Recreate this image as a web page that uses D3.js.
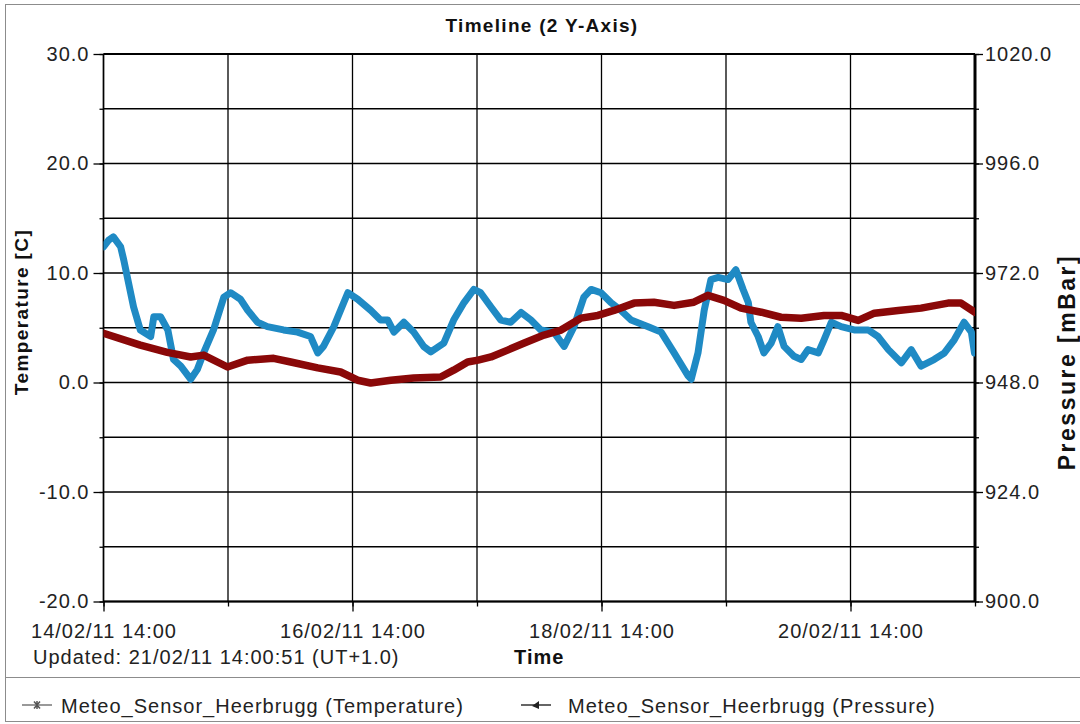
<!DOCTYPE html>
<html>
<head>
<meta charset="utf-8">
<script src="https://cdn.jsdelivr.net/npm/d3@7"></script>
<style>
  body { margin: 0; background: #fff; }
  svg { display: block; font-family: "Liberation Sans", Arial, sans-serif; }
</style>
</head>
<body>
<svg id="chart" width="1080" height="724"></svg>
<script>
// readings, hours after 14/02/11 14:00
const tempHours = [0, 1, 1.9, 3.3, 3.9, 5.8, 7.1, 9.1, 9.7, 11, 12.4, 13.5, 14.9, 16.8, 18.1, 19.3, 21.2, 23.2, 24.5, 26.4,
  27.8, 29.7, 31.6, 34.7, 37.4, 39.9, 41.3, 42.4, 44.4, 47.1, 49, 51.5, 53.4, 54.8, 56, 57.9, 59.8, 61.7, 63.1, 65.6,
  67.5, 69.5, 71.4, 72.7, 74.7, 76.6, 78.5, 80.5, 82.4, 84.3, 86.8, 88.8, 90.7, 92.6, 94, 95.9, 97.8, 99.7, 101.7, 105,
  107.5, 110, 112.7, 113.3, 114.6, 115.8, 117.1, 118.5, 120.4, 121.9, 123.3, 124.3, 124.8, 126.2, 127.3, 128.7, 130, 131.2, 133.1, 134.5,
  135.8, 137.8, 138.9, 140.3, 142.2, 144.7, 147.4, 149.3, 151.3, 153.8, 155.7, 157.6, 160.1, 162.1, 164, 165.9, 167.3, 167.9]
const tempC = [12.4, 13.0, 13.3, 12.4, 11.2, 6.9, 4.8, 4.2, 6.0, 6.0, 4.8, 2.1, 1.5, 0.3, 1.2, 2.7, 4.8, 7.8, 8.2, 7.6,
  6.6, 5.5, 5.1, 4.8, 4.6, 4.2, 2.7, 3.3, 5.1, 8.2, 7.6, 6.6, 5.7, 5.7, 4.6, 5.5, 4.6, 3.3, 2.8, 3.6,
  5.7, 7.3, 8.5, 8.2, 6.9, 5.7, 5.5, 6.4, 5.7, 4.8, 4.6, 3.3, 5.1, 7.8, 8.5, 8.2, 7.3, 6.6, 5.7, 5.1,
  4.6, 2.7, 0.6, 0.3, 2.7, 6.6, 9.4, 9.6, 9.4, 10.3, 8.5, 7.3, 5.5, 4.2, 2.7, 3.6, 5.1, 3.3, 2.4, 2.1,
  3.0, 2.7, 3.9, 5.5, 5.1, 4.8, 4.8, 4.2, 3.0, 1.8, 3.0, 1.5, 2.1, 2.7, 3.9, 5.5, 4.6, 2.7]

const pressHours = [0, 7.1, 12.3, 16.8, 19.3, 23.9, 27.8, 32.8, 36.1, 41.3, 45.7, 49, 51.5, 55.4, 59.8, 65, 67.5, 70.2, 72.2, 74.7,
  77.9, 81, 84.9, 88.2, 92, 95.3, 98.4, 102.3, 106.1, 110, 113.8, 116.5, 119.6, 122.9, 126.8, 130.6, 134.5, 138.9, 142.2, 145.5,
  148.6, 153.2, 157.6, 162.8, 165.3, 168]
const pressMbar = [958.8, 956.2, 954.6, 953.6, 954.0, 951.4, 952.9, 953.3, 952.5, 951.2, 950.3, 948.5, 947.9, 948.5, 949.0, 949.2, 950.7, 952.5, 952.9, 953.6,
  955.1, 956.6, 958.4, 959.5, 962.1, 962.7, 963.8, 965.4, 965.6, 964.9, 965.6, 967.1, 966.0, 964.3, 963.4, 962.3, 962.1, 962.7, 962.7, 961.6,
  963.2, 963.8, 964.3, 965.4, 965.4, 963.4]

const tempTicks = [-20, -15, -10, -5, 0, 5, 10, 15, 20, 25, 30]
const tempLabelled = [-20, -10, 0, 10, 20, 30]
const pressTicks = [900, 912, 924, 936, 948, 960, 972, 984, 996, 1008, 1020]
const pressLabelled = [900, 924, 948, 972, 996, 1020]
const dayOffsets = [0, 1, 2, 3, 4, 5, 6, 7]
const labelledDays = [0, 2, 4, 6]

const seriesNames = ['Meteo_Sensor_Heerbrugg (Temperature)', 'Meteo_Sensor_Heerbrugg (Pressure)']

const start = Date.UTC(2011, 1, 14, 14)
const end = Date.UTC(2011, 1, 21, 14)
const toDate = (h) => new Date(start + h * 3600e3)

const svg = d3.select('#chart')
const plotL = 103.5
const plotR = 975
const plotT = 54
const plotB = 601.5
const font = 20

const x = d3.scaleUtc().domain([start, end]).range([plotL, plotR])
const yT = d3.scaleLinear().domain([-20, 30]).range([plotB, plotT])
const yP = d3.scaleLinear().domain([900, 1020]).range([plotB, plotT])

const dayTicks = dayOffsets.map((d) => toDate(d * 24))
const labelTicks = labelledDays.map((d) => toDate(d * 24))
const fmt = d3.utcFormat('%d/%m/%y %H:%M')
const num = (d) => d.toFixed(1)

// panel frame
svg.append('rect')
  .attr('x', 5.5).attr('y', 4.5).attr('width', 1090).attr('height', 717)
  .attr('fill', '#fff').attr('stroke', '#8c8c8c')
svg.append('line')
  .attr('x1', 5).attr('x2', 1080).attr('y1', 677.5).attr('y2', 677.5)
  .attr('stroke', '#8c8c8c')

// grid
const grid = svg.append('g').attr('stroke', '#000').attr('stroke-width', 1.3)
grid.selectAll('line.h').data(tempTicks).join('line')
  .attr('class', 'h')
  .attr('x1', plotL).attr('x2', plotR)
  .attr('y1', (d) => yT(d)).attr('y2', (d) => yT(d))
grid.selectAll('line.v').data(dayTicks).join('line')
  .attr('class', 'v')
  .attr('y1', plotT).attr('y2', plotB)
  .attr('x1', (d) => x(d)).attr('x2', (d) => x(d))

// axes
function styleAxis(g) {
  g.select('.domain').remove()
  g.selectAll('line').attr('stroke', '#000').attr('stroke-width', 1.3)
  g.selectAll('text').attr('fill', '#222').attr('font-size', font).attr('letter-spacing', 1)
}

svg.append('g').attr('transform', `translate(${plotL},0)`)
  .call(d3.axisLeft(yT).tickValues(tempTicks).tickSize(4).tickFormat(''))
  .call(styleAxis)
svg.append('g').attr('transform', `translate(${plotL},0)`)
  .call(d3.axisLeft(yT).tickValues(tempLabelled).tickSize(10).tickPadding(4).tickFormat(num))
  .call(styleAxis)

svg.append('g').attr('transform', `translate(${plotR},0)`)
  .call(d3.axisRight(yP).tickValues(pressTicks).tickSize(4).tickFormat(''))
  .call(styleAxis)
svg.append('g').attr('transform', `translate(${plotR},0)`)
  .call(d3.axisRight(yP).tickValues(pressLabelled).tickSize(8).tickPadding(2).tickFormat(num))
  .call(styleAxis)

svg.append('g').attr('transform', `translate(0,${plotB})`)
  .call(d3.axisBottom(x).tickValues(dayTicks).tickSize(5).tickFormat(''))
  .call(styleAxis)
svg.append('g').attr('transform', `translate(0,${plotB})`)
  .call(d3.axisBottom(x).tickValues(labelTicks).tickSize(10).tickPadding(12).tickFormat(fmt))
  .call(styleAxis)

// plot border
svg.append('line').attr('x1', plotL).attr('x2', plotR).attr('y1', plotT).attr('y2', plotT)
  .attr('stroke', '#000').attr('stroke-width', 2)
svg.append('line').attr('x1', plotL).attr('x2', plotR).attr('y1', plotB).attr('y2', plotB)
  .attr('stroke', '#000').attr('stroke-width', 2)
svg.append('line').attr('x1', plotL).attr('x2', plotL).attr('y1', plotT).attr('y2', plotB)
  .attr('stroke', '#000').attr('stroke-width', 1.5)
svg.append('line').attr('x1', plotR).attr('x2', plotR).attr('y1', plotT).attr('y2', plotB)
  .attr('stroke', '#000').attr('stroke-width', 3)

// series
svg.append('clipPath').attr('id', 'plot')
  .append('rect').attr('x', plotL).attr('y', plotT).attr('width', plotR - plotL).attr('height', plotB - plotT)

const tempData = tempHours.map((h, i) => ({ t: toDate(h), v: tempC[i] }))
const pressData = pressHours.map((h, i) => ({ t: toDate(h), v: pressMbar[i] }))

const plot = svg.append('g').attr('clip-path', 'url(#plot)')
plot.append('path')
  .datum(tempData)
  .attr('d', d3.line().x((d) => x(d.t)).y((d) => yT(d.v)))
  .attr('fill', 'none').attr('stroke', '#1f8ac4').attr('stroke-width', 7)
  .attr('stroke-linejoin', 'round').attr('stroke-linecap', 'round')
plot.append('path')
  .datum(pressData)
  .attr('d', d3.line().x((d) => x(d.t)).y((d) => yP(d.v)))
  .attr('fill', 'none').attr('stroke', '#8a0808').attr('stroke-width', 7.5)
  .attr('stroke-linejoin', 'round').attr('stroke-linecap', 'round')

// texts
svg.append('text')
  .attr('x', 542).attr('y', 32).attr('text-anchor', 'middle')
  .attr('font-size', 19).attr('font-weight', 'bold').attr('letter-spacing', 1.3)
  .attr('fill', '#111')
  .text('Timeline (2 Y-Axis)')

svg.append('text')
  .attr('transform', 'translate(28,312) rotate(-90)')
  .attr('text-anchor', 'middle')
  .attr('font-size', 19).attr('font-weight', 'bold').attr('letter-spacing', 1.4)
  .attr('fill', '#111')
  .text('Temperature [C]')

svg.append('text')
  .attr('transform', 'translate(1075,362) rotate(-90)')
  .attr('text-anchor', 'middle')
  .attr('font-size', 23).attr('font-weight', 'bold').attr('letter-spacing', 2.5)
  .attr('fill', '#111')
  .text('Pressure [mBar]')

svg.append('text')
  .attr('x', (plotL + plotR) / 2).attr('y', 664).attr('text-anchor', 'middle')
  .attr('font-size', font).attr('font-weight', 'bold').attr('letter-spacing', 1)
  .attr('fill', '#111')
  .text('Time')

svg.append('text')
  .attr('x', 33).attr('y', 664)
  .attr('font-size', font).attr('letter-spacing', 1)
  .attr('fill', '#222')
  .text('Updated: 21/02/11 14:00:51 (UT+1.0)')

// legend
const legendX = [22, 521]
const legend = svg.selectAll('g.legend').data(seriesNames).join('g')
  .attr('class', 'legend')
  .attr('transform', (d, i) => `translate(${legendX[i]},705)`)
legend.append('line')
  .attr('x1', 0).attr('x2', 30).attr('y1', 0).attr('y2', 0)
  .attr('stroke', (d, i) => i === 0 ? '#777' : '#333').attr('stroke-width', 1.5)
legend.filter((d, i) => i === 0).append('path')
  .attr('d', 'M12,-3.5L18,3.5M12,3.5L18,-3.5M15,-4V4')
  .attr('stroke', '#555').attr('stroke-width', 1.5)
legend.filter((d, i) => i === 1).append('path')
  .attr('d', 'M11,1L18,-4L18,4Z')
  .attr('fill', '#222')
legend.append('text')
  .attr('x', (d, i) => i === 0 ? 39 : 47).attr('y', 8)
  .attr('font-size', font).attr('letter-spacing', 1)
  .attr('fill', '#222')
  .text((d) => d)
</script>
</body>
</html>
